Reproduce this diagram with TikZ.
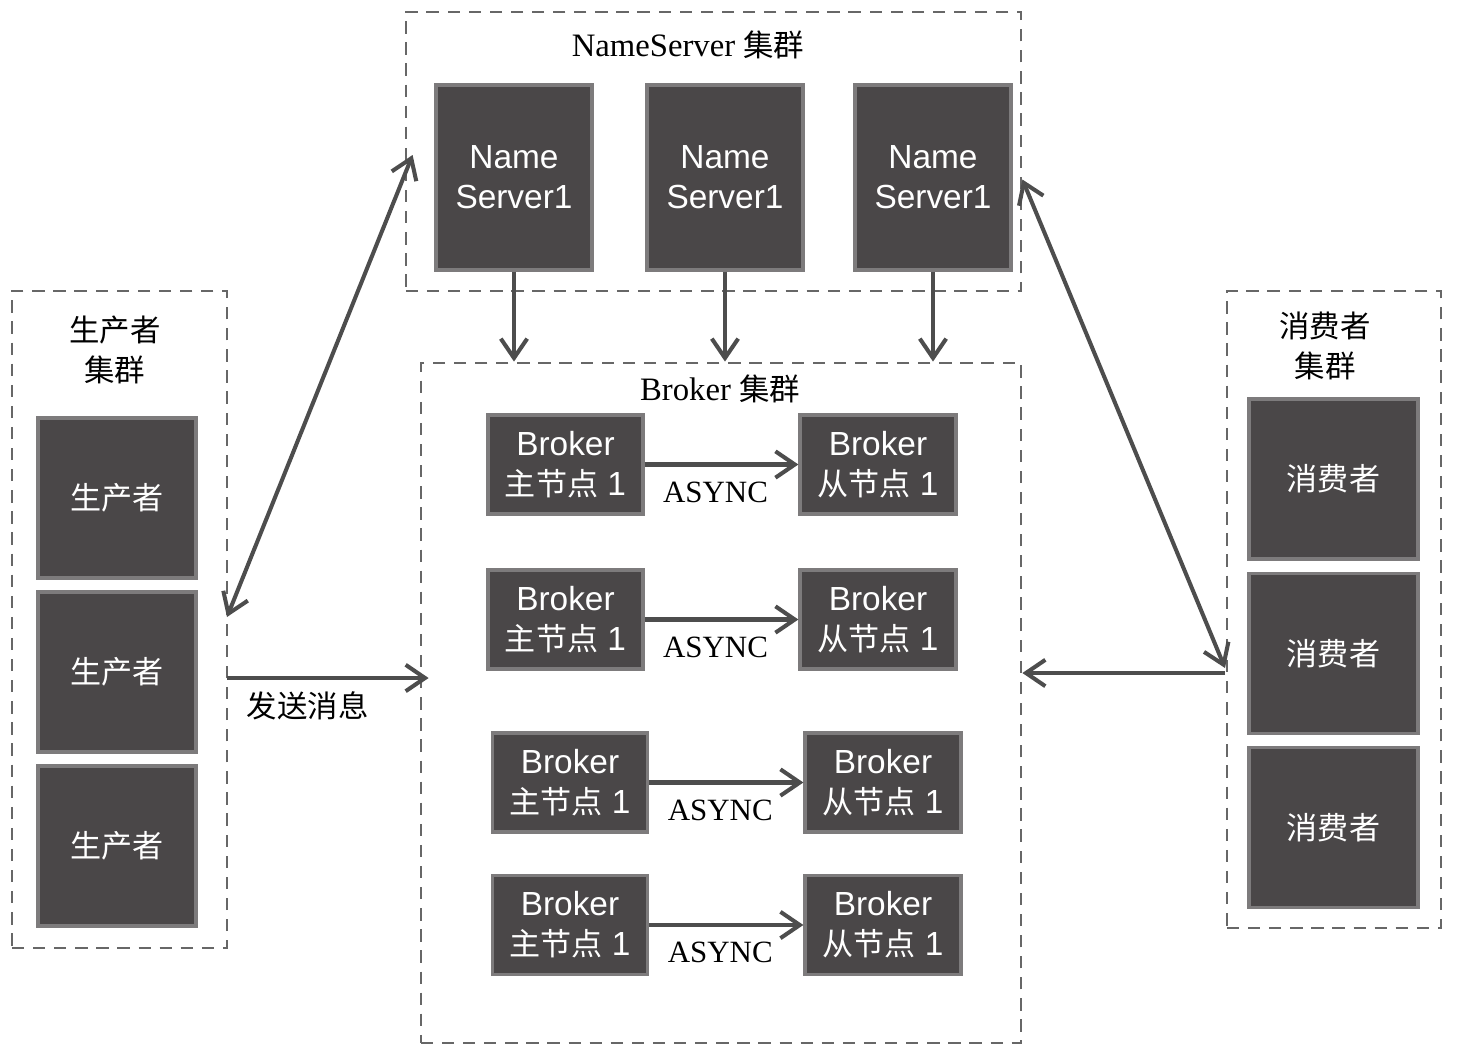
\documentclass[tikz,border=0pt]{standalone}
\usepackage{fontspec}
\setmainfont{Liberation Serif}
\setsansfont{Liberation Sans}
\newfontfamily\cjk[Scale=0.93]{Noto Sans CJK SC}
\usetikzlibrary{arrows.meta,positioning}

\definecolor{boxfill}{HTML}{4A4748}
\definecolor{boxline}{HTML}{7D7B7C}
\definecolor{lineclr}{HTML}{4D4D4D}
\definecolor{dashclr}{HTML}{676767}

\begin{document}
\begin{tikzpicture}[x=0.01cm,y=-0.01cm,
server/.style={draw=boxline,fill=boxfill,line width=0.9pt,text=white,align=center,inner sep=0pt,
  font=\sffamily\fontsize{9.5}{11.4}\selectfont},
cluster/.style={draw=dashclr,line width=0.7pt,dash pattern=on 3.5pt off 2.5pt,inner sep=0pt},
conn/.style={draw=lineclr,line width=1.15pt,-{Straight Barb[length=5.5pt,width=7.5pt,line width=1.15pt]}},
dconn/.style={conn,{Straight Barb[length=5.5pt,width=7.5pt,line width=1.15pt]}-{Straight Barb[length=5.5pt,width=7.5pt,line width=1.15pt]}},
title/.style={font=\fontsize{9.3}{11.4}\selectfont,align=center},
asynclabel/.style={font=\fontsize{8.8}{10}\selectfont}
]
\useasboundingbox (0,0) rectangle (1463,1054);

% clusters
\node[cluster,minimum width=6.15cm,minimum height=2.79cm] (nsgrp) at (713.5,151.5) {};
\node[cluster,minimum width=6cm,minimum height=6.8cm] (brkgrp) at (721,703) {};
\node[cluster,minimum width=2.15cm,minimum height=6.57cm] (prodgrp) at (119.5,619.5) {};
\node[cluster,minimum width=2.14cm,minimum height=6.37cm] (consgrp) at (1334,609.5) {};

\node[title] (nstitle) at (688,45) {NameServer {\cjk 集群}};
\node[title] (brktitle) at (720,389) {Broker {\cjk 集群}};
\node[title] (prodtitle) at (115,350) {\cjk 生产者\\\cjk 集群};
\node[title] (constitle) at (1325,346) {\cjk 消费者\\\cjk 集群};

% name servers
\foreach \i/\x in {1/514,2/725,3/933}{
  \node[server,minimum width=1.56cm,minimum height=1.85cm] (ns\i) at (\x,177.5) {Name\\Server1};
  \draw[conn] (ns\i.south) -- (ns\i.south |- brkgrp.north);
}

% brokers
\foreach \i/\xm/\xs/\y in {1/565.5/878/464.5,2/565.5/878/619.5,3/570/883/782.5,4/570/883/925}{
  \node[server,minimum width=1.55cm,minimum height=0.99cm] (m\i) at (\xm,\y) {Broker\\{\cjk 主节点} 1};
  \node[server,minimum width=1.56cm,minimum height=0.99cm] (s\i) at (\xs,\y) {Broker\\{\cjk 从节点} 1};
  \draw[conn] (m\i) -- (s\i) node[midway,below=1pt,xshift=-0.06cm,asynclabel] {ASYNC};
}

% producers and consumers
\foreach \i/\y in {1/498,2/672,3/846}{
  \node[server,minimum width=1.58cm,minimum height=1.6cm] (prod\i) at (117,\y) {\cjk 生产者};
}
\foreach \i/\y in {1/479,2/653.5,3/827.5}{
  \node[server,minimum width=1.69cm,minimum height=1.6cm] (cons\i) at (1333.5,\y) {\cjk 消费者};
}

% links
\coordinate (pa) at (227,617);
\coordinate (ps) at (227,678);
\coordinate (ca) at (1225,668);
\coordinate (cs) at (1225,673);
\draw[dconn] (pa) -- ([xshift=0.08cm,yshift=-0.035cm]nsgrp.west);
\draw[dconn] ([yshift=-0.28cm]nsgrp.east) -- (ca);
\draw[conn] (ps) -- ([xshift=0.09cm]ps -| brkgrp.west) node[pos=0.4,below=0pt,title] {\cjk 发送消息};
\draw[conn] (cs) -- (cs -| brkgrp.east);
\end{tikzpicture}
\end{document}
